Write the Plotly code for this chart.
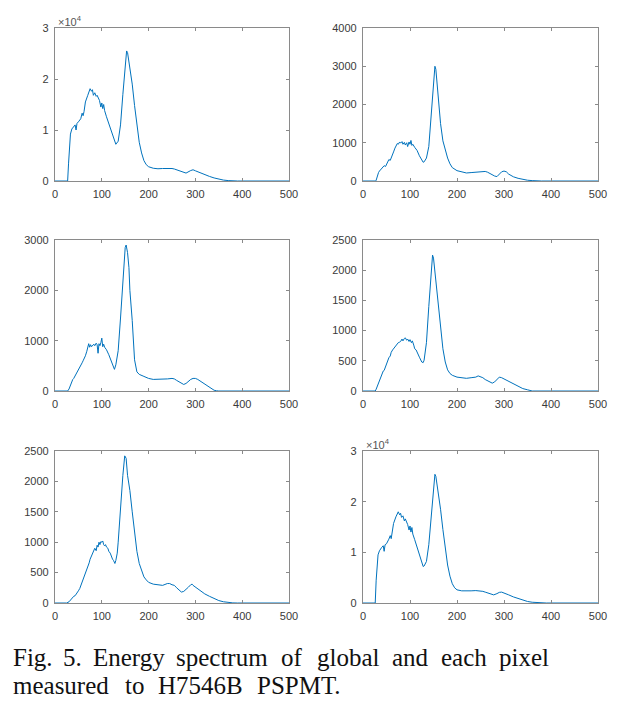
import plotly.graph_objects as go

W, H = 626, 704

# ---- data ----
x1 = [0,26,27,29,31,33,36,40,43,45,47,50,55,58,60,62,65,70,75,78,80,82,85,88,90,95,98,100,102,104,106,110,115,120,125,130,135,140,145,150,153,155,160,165,170,175,180,185,190,195,200,210,220,230,240,250,255,260,270,280,290,295,300,310,320,330,340,350,360,370,380,390,500]
y1 = [0,0,0,3500,7000,9200,10200,10800,11000,10000,11300,11600,12200,13300,12800,13600,15500,16800,18100,17600,17900,16800,17300,16600,16800,15800,14500,15300,14200,15000,13800,12600,11200,9700,8200,7200,7800,11000,17000,23000,25500,25200,22500,19000,14800,10800,7600,5500,4000,3200,2800,2500,2400,2450,2500,2450,2350,2200,1800,1550,2050,2200,2000,1600,1200,900,600,350,180,80,30,0,0]

x2 = [0,27,28,30,33,35,38,40,43,45,48,50,53,55,58,60,63,65,68,70,73,75,78,80,83,85,88,90,93,95,98,100,102,104,106,110,115,120,125,128,130,135,140,145,150,153,155,158,160,165,170,175,180,185,190,200,210,220,230,240,250,260,265,270,280,285,290,295,300,305,310,320,330,340,350,360,370,380,500]
y2 = [0,0,20,120,220,260,300,340,380,400,380,440,480,560,540,620,680,760,860,920,980,960,1020,990,1030,960,1010,940,1000,900,1020,960,1060,930,960,880,800,660,530,490,500,600,900,1650,2550,3000,2920,2500,2200,1500,1050,800,600,450,350,270,230,210,220,230,240,250,230,190,130,115,170,240,260,240,180,110,70,40,20,10,3,0,0]

x3 = [0,27,30,33,35,38,40,43,45,48,50,53,55,58,60,63,65,68,70,72,74,76,78,80,83,85,88,90,92,94,96,98,100,102,104,106,110,115,120,125,127,130,135,140,145,150,152,155,158,160,165,170,175,180,190,200,210,220,230,240,250,255,260,270,275,280,285,290,295,300,305,310,320,330,335,340,345,350,500]
y3 = [0,0,40,130,180,230,250,300,320,370,400,450,500,560,600,650,700,790,850,940,870,920,880,900,930,900,950,920,750,940,900,960,1050,880,930,870,820,720,580,470,430,520,800,1450,2250,2850,2900,2750,2450,2000,1400,620,380,330,290,250,230,230,240,240,250,240,210,160,130,150,190,230,250,250,230,200,140,70,40,15,5,0,0]

x4 = [0,26,28,30,33,35,38,40,43,45,48,50,53,55,58,60,63,65,68,70,73,75,78,80,83,85,88,90,93,95,98,100,103,105,108,110,113,115,118,120,125,128,130,135,140,145,148,150,152,155,160,165,170,175,180,185,190,200,210,220,230,240,245,250,255,260,270,275,280,285,290,295,300,305,310,320,330,340,350,355,360,500]
y4 = [0,0,30,70,150,200,260,290,330,340,410,450,490,550,580,640,680,700,740,760,790,800,810,820,860,830,870,880,840,860,820,850,800,830,760,700,680,640,600,560,480,470,510,800,1400,1950,2250,2200,2050,1800,1400,1000,700,480,350,290,260,230,220,210,220,230,250,240,220,190,150,130,150,200,230,220,200,180,150,110,70,40,20,5,0,0]

x5 = [0,25,30,35,38,40,43,45,48,50,53,55,58,60,63,65,68,70,73,75,78,80,83,85,88,90,92,94,96,98,100,102,104,106,108,110,113,115,118,120,123,125,128,130,133,135,140,145,149,152,155,158,160,165,170,175,180,185,190,195,200,210,220,230,240,245,250,255,260,265,270,275,280,285,290,293,295,300,310,320,330,340,350,360,370,380,390,500]
y5 = [0,0,20,60,100,110,120,140,170,200,240,280,330,380,430,480,540,600,660,720,780,820,880,900,860,950,920,1000,960,1010,1000,1020,960,940,960,920,900,850,820,760,720,700,650,700,820,1000,1600,2100,2420,2380,2100,1950,1850,1500,1150,850,650,520,430,380,340,310,300,290,320,320,300,290,250,210,180,190,220,260,300,310,290,260,200,150,110,70,40,20,8,2,0,0]

x6 = [0,25,26,28,30,32,35,38,40,43,45,47,50,55,58,60,62,65,70,75,78,80,82,85,88,90,95,98,100,102,104,106,110,115,120,125,128,130,135,140,145,150,153,155,160,165,170,175,180,185,190,195,200,210,220,230,240,250,255,260,270,278,285,290,295,300,310,320,330,340,350,360,370,380,390,500]
y6 = [0,0,0,4500,8000,9500,10300,10800,11000,11300,10200,11500,11700,12600,13300,12700,13900,15700,17000,18000,17400,17700,16900,17200,16200,16600,15500,14400,15200,14000,14900,13600,12500,11000,9500,8000,7200,7300,8200,11500,17500,23500,25400,25000,22000,18500,14500,10500,7500,5300,3800,3000,2600,2400,2350,2400,2450,2400,2300,2150,1800,1600,1850,2100,2150,2000,1600,1200,850,550,300,150,60,20,0,0]

x_ticks = [0, 100, 200, 300, 400, 500]
y_ticks_e4 = [0, 10000, 20000, 30000]
y_ticks_e4_text = ["0", "1", "2", "3"]
y_ticks_4000 = [0, 1000, 2000, 3000, 4000]
y_ticks_3000 = [0, 1000, 2000, 3000]
y_ticks_2500 = [0, 500, 1000, 1500, 2000, 2500]

caption_line1 = ["Fig.", "5.", "Energy", "spectrum", "of", "global", "and", "each", "pixel"]
caption_line2 = ["measured", "to", "H7546B", "PSPMT."]

# ---- layout (pixel boxes) ----
cols = [(55, 289), (363, 598)]
rows = [(28, 181), (240, 391), (451, 603)]

panels = [
    (x1, y1, 0, 0, 30000, y_ticks_e4, y_ticks_e4_text, True),
    (x2, y2, 0, 1, 4000, y_ticks_4000, None, False),
    (x3, y3, 1, 0, 3000, y_ticks_3000, None, False),
    (x4, y4, 1, 1, 2500, y_ticks_2500, None, False),
    (x5, y5, 2, 0, 2500, y_ticks_2500, None, False),
    (x6, y6, 2, 1, 30000, y_ticks_e4, y_ticks_e4_text, True),
]

fig = go.Figure()
axis_col = "#8a8a8a"
tick_font = dict(family="Liberation Sans, Arial, sans-serif", size=11, color="#3a3a3a")
annotations = []

for i, (xs, ys, r, c, ymax, yt, ytt, expo) in enumerate(panels):
    n = "" if i == 0 else str(i + 1)
    fig.add_trace(go.Scatter(x=xs, y=ys, mode="lines",
                             line=dict(color="#0072BD", width=1),
                             xaxis="x" + n, yaxis="y" + n, showlegend=False,
                             hoverinfo="skip"))
    x0p, x1p = cols[c]
    y0p, y1p = rows[r]
    common = dict(showline=True, linecolor=axis_col, linewidth=1.2, mirror="allticks",
                  ticks="inside", ticklen=3, tickcolor=axis_col, tickwidth=1,
                  showgrid=False, zeroline=False, tickfont=tick_font, fixedrange=True,
                  automargin=False)
    fig.layout["xaxis" + n] = dict(domain=[x0p / W, x1p / W], range=[0, 500],
                                   tickvals=x_ticks, anchor="y" + n,
                                   ticklabelstandoff=3, **common)
    yax = dict(domain=[1 - y1p / H, 1 - y0p / H], range=[0, ymax],
               tickvals=yt, anchor="x" + n, ticklabelstandoff=3, **common)
    if ytt is not None:
        yax["ticktext"] = ytt
    fig.layout["yaxis" + n] = yax
    if expo:
        annotations.append(dict(x=(x0p + 1) / W, y=1 - (y0p - 7) / H, xref="paper", yref="paper",
                                text="×10<sup>4</sup>", showarrow=False, xanchor="left",
                                yanchor="middle",
                                font=dict(family="Liberation Sans, Arial, sans-serif",
                                          size=11, color="#555555")))

line1_x = [12, 62, 92, 175, 280, 316, 391, 440, 498]
line2_x = [12, 124, 157, 256]
for words, xs, yc in [(caption_line1, line1_x, 657), (caption_line2, line2_x, 685)]:
    for w, xp in zip(words, xs):
        annotations.append(dict(x=xp / W, y=1 - yc / H, xref="paper", yref="paper",
                                text=w, showarrow=False, xanchor="left", yanchor="middle",
                                borderpad=0,
                                font=dict(family="Liberation Serif, Times New Roman, serif",
                                          size=25, color="#111111")))

fig.update_layout(width=W, height=H, margin=dict(l=0, r=0, t=0, b=0, autoexpand=False),
                  paper_bgcolor="white", plot_bgcolor="white",
                  annotations=annotations)

fig.write_html("out.html", config={"displayModeBar": False},
               post_script="document.body.style.margin='0';document.body.style.overflow='hidden';")
